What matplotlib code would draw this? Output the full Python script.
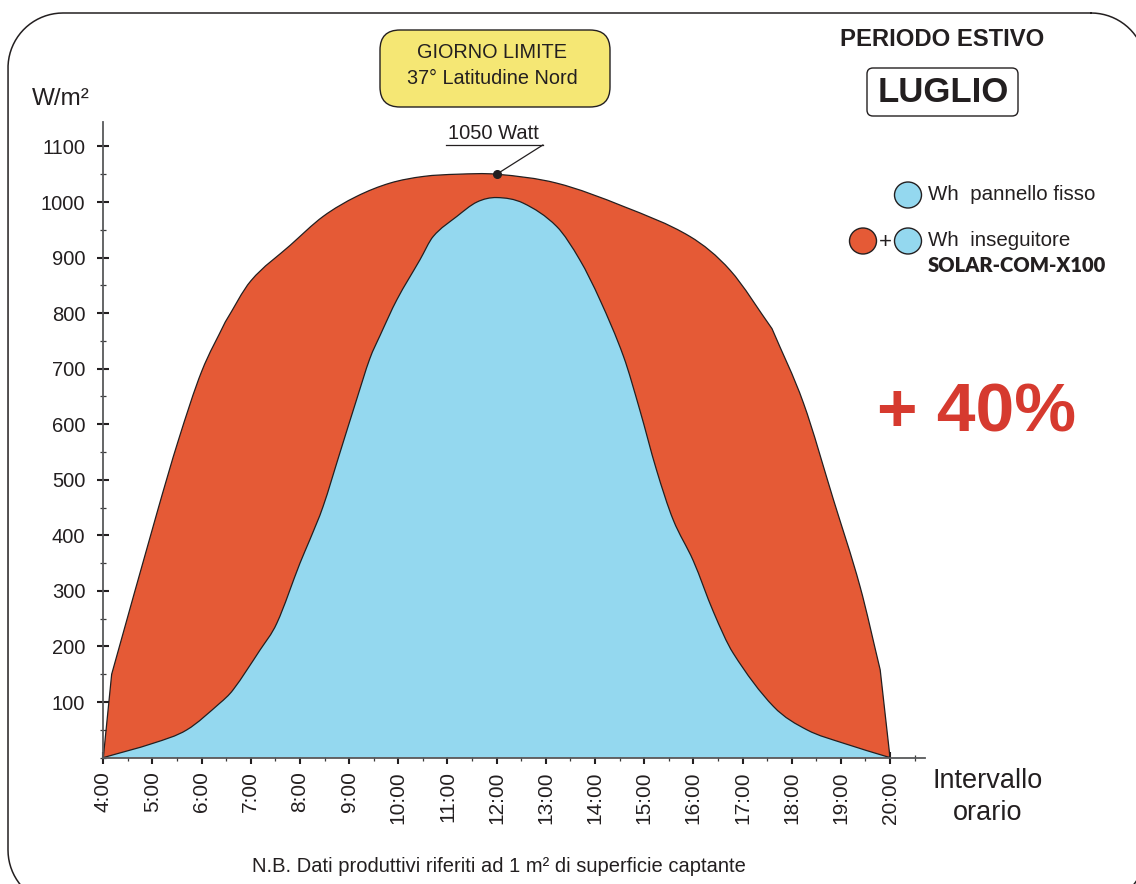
import numpy as np
import matplotlib
matplotlib.use("Agg")
import matplotlib.pyplot as plt
from matplotlib.patches import FancyBboxPatch, Ellipse, PathPatch
from matplotlib.path import Path
from matplotlib.lines import Line2D
from matplotlib.transforms import IdentityTransform
from matplotlib.ticker import MultipleLocator

# --- data -------------------------------------------------------------
# irradiance with the SOLAR-COM-X100 tracker (W/m2)
tracker_hours = [4.0, 4.17, 5.09, 5.53, 6.0, 6.48, 7.0, 7.80,
                 8.47, 9.15, 9.83, 10.51, 11.2, 12.0, 13.22, 14.58, 15.93,
                 16.75, 17.6, 18.24, 18.85, 19.39, 19.8, 20.0]
tracker_wm2 = [0, 150, 440, 572, 695, 784, 858, 922,
               974, 1010, 1034, 1046, 1050, 1050, 1034, 992, 938,
               877, 772, 638, 464, 308, 158, 0]
tracker_corners = (1, 5, 18, 22)

# irradiance on the fixed panel (W/m2)
fixed_hours = [4.0, 5.02, 5.70, 6.37, 6.64, 7.19, 7.53, 8.0, 8.2,
               8.47, 8.81, 9.15, 9.42, 9.63, 9.97, 10.44, 10.71, 11.19,
               11.6, 12.0, 12.54, 13.22, 13.69, 14.10, 14.58, 14.91, 15.25,
               15.59, 16.0, 16.41, 16.81, 17.63, 18.31, 19.05, 20.0]
fixed_wm2 = [0, 26, 50, 98, 122, 194, 242, 350, 392,
             452, 548, 644, 718, 760, 824, 896, 938, 974,
             1000, 1008, 998, 956, 896, 824, 722, 626, 518,
             428, 354, 262, 188, 92, 50, 26, 0]

peak_hour = 12.0
peak_value = 1050

hour_ticks = list(range(4, 21))
hour_labels = [f"{h}:00" for h in hour_ticks]
wm2_ticks = list(range(100, 1101, 100))

RED = "#e55a36"
BLUE = "#94d8ef"
INK = "#231f20"
FONT = ["Liberation Sans", "DejaVu Sans"]

W, H = 1136, 884
fig = plt.figure(figsize=(W / 100, H / 100), dpi=100)
fig.patch.set_facecolor("white")


def fp(x, y):
    """pixel position (from top-left) -> figure fraction"""
    return x / W, 1 - y / H


def smooth_path(xs, ys, corners=(), close=False):
    """Cubic Hermite path through the given points (sharp at `corners`)."""
    xs = np.asarray(xs, float)
    ys = np.asarray(ys, float)
    n = len(xs)
    sec = np.diff(ys) / np.diff(xs)

    def slope(i, side):
        if i == 0:
            return sec[0]
        if i == n - 1:
            return sec[-1]
        if i in corners:
            return sec[i - 1] if side == "in" else sec[i]
        return (ys[i + 1] - ys[i - 1]) / (xs[i + 1] - xs[i - 1])

    verts = [(xs[0], ys[0])]
    codes = [Path.MOVETO]
    for i in range(n - 1):
        h = xs[i + 1] - xs[i]
        m0 = slope(i, "out")
        m1 = slope(i + 1, "in")
        verts += [(xs[i] + h / 3, ys[i] + m0 * h / 3),
                  (xs[i + 1] - h / 3, ys[i + 1] - m1 * h / 3),
                  (xs[i + 1], ys[i + 1])]
        codes += [Path.CURVE4] * 3
    if close:
        verts += [(xs[-1], 0), (xs[0], 0), (xs[0], 0)]
        codes += [Path.LINETO, Path.LINETO, Path.CLOSEPOLY]
    return Path(verts, codes)


# axes placement
x0, x1 = 103.3, 925.0
ytop, ybot = 122.0, 757.6
ax = fig.add_axes([x0 / W, 1 - ybot / H, (x1 - x0) / W, (ybot - ytop) / H])
px_per_hour = 49.17
px_per_w = 0.5556
ax.set_xlim(4, 4 + (x1 - x0) / px_per_hour)
ax.set_ylim(0, (ybot - ytop) / px_per_w)
ax.set_facecolor("none")

# filled areas
ax.add_patch(PathPatch(smooth_path(tracker_hours, tracker_wm2, tracker_corners, close=True),
                       facecolor=RED, lw=0, zorder=1))
ax.add_patch(PathPatch(smooth_path(tracker_hours, tracker_wm2, tracker_corners),
                       facecolor="none", edgecolor=INK, lw=0.9, zorder=3))
ax.add_patch(PathPatch(smooth_path(fixed_hours, fixed_wm2, close=True),
                       facecolor=BLUE, lw=0, zorder=2))
ax.add_patch(PathPatch(smooth_path(fixed_hours, fixed_wm2),
                       facecolor="none", edgecolor=INK, lw=0.9, zorder=3))

# spines & ticks
for s in ("top", "right"):
    ax.spines[s].set_visible(False)
for s in ("left", "bottom"):
    ax.spines[s].set_color("#58595b")
    ax.spines[s].set_linewidth(1.3)
    ax.spines[s].set_zorder(4)

ax.set_xticks(hour_ticks)
ax.set_xticklabels(hour_labels, rotation=90, fontsize=15, family=FONT,
                   color=INK, va="top")
ax.xaxis.set_minor_locator(MultipleLocator(0.5))
ax.set_yticks(wm2_ticks)
ax.set_yticklabels([str(v) for v in wm2_ticks], fontsize=14.5, family=FONT,
                   color=INK)
ax.yaxis.set_minor_locator(MultipleLocator(50))
ax.tick_params(which="major", direction="inout", length=8, width=1.5,
               color=INK)
ax.tick_params(which="minor", direction="inout", length=5, width=0.9,
               color="#3a3a3a")
ax.tick_params(axis="y", which="major", pad=9)
ax.tick_params(axis="x", which="major", pad=6)

# peak annotation
ax.plot([peak_hour], [peak_value], "o", color=INK, ms=5.5, zorder=5)
ax.plot([12.94, peak_hour], [1102.6, peak_value], color=INK, lw=0.9, zorder=5)
ax.plot([10.97, 12.94], [1102.6, 1102.6], color=INK, lw=0.9, zorder=5,
        clip_on=False)
ax.text(11.93, 1106, f"{peak_value} Watt", ha="center", va="bottom",
        fontsize=14.5, family=FONT, color=INK)

# axis titles
fig.text(*fp(32, 99), "W/m²", fontsize=17.5, family=FONT, color=INK,
         ha="left", va="center")
fig.text(*fp(988, 797), "Intervallo\norario", fontsize=19.5, family=FONT,
         color=INK, ha="center", va="center", linespacing=1.35)
fig.text(*fp(499, 866), "N.B. Dati produttivi riferiti ad 1 m² di superficie captante",
         fontsize=14.5, family=FONT, color=INK, ha="center", va="center")

# yellow header box
ident = IdentityTransform()
fig.add_artist(FancyBboxPatch((380, H - 107), 230, 77,
                              boxstyle="round,pad=0,rounding_size=20",
                              transform=ident, facecolor="#f5e774",
                              edgecolor=INK, lw=1.0))
fig.text(*fp(492, 53), "GIORNO LIMITE", fontsize=14.3, family=FONT, color=INK,
         ha="center", va="center")
fig.text(*fp(492, 78), "37° Latitudine Nord", fontsize=14.3, family=FONT,
         color=INK, ha="center", va="center")

# period
fig.text(*fp(942, 39), "PERIODO ESTIVO", fontsize=17.2, family=FONT,
         weight="bold", color=INK, ha="center", va="center")
fig.add_artist(FancyBboxPatch((867, H - 116), 151, 48,
                              boxstyle="round,pad=0,rounding_size=6",
                              transform=ident, facecolor="white",
                              edgecolor=INK, lw=1.0))
fig.text(*fp(943, 93), "LUGLIO", fontsize=25, family=FONT, weight="bold",
         color=INK, ha="center", va="center")


# legend
def dot(x, y, color):
    fig.add_artist(Ellipse(fp(x, y), 27 / W, 26 / H, transform=fig.transFigure,
                           facecolor=color, edgecolor=INK, lw=1.0))


dot(908, 195, BLUE)
dot(863, 241, RED)
dot(908, 241, BLUE)
fig.text(*fp(885, 242), "+", fontsize=16, family=FONT, color=INK,
         ha="center", va="center")
fig.text(*fp(928, 194), "Wh  pannello fisso", fontsize=14.8, family=FONT,
         color=INK, ha="left", va="center")
fig.text(*fp(928, 241), "Wh  inseguitore", fontsize=14.8, family=FONT,
         color=INK, ha="left", va="center")
fig.text(*fp(928, 266), "SOLAR-COM-X100", fontsize=14.5,
         family=["Lato", "DejaVu Sans"], weight="heavy", color=INK,
         ha="left", va="center")

# gain
fig.text(*fp(977, 414), "+ 40%", fontsize=50, family=FONT, weight="bold",
         color="#d63a2f", ha="center", va="center")


# rounded frame (sampled outline so it clips cleanly at the canvas edge)
def rounded_frame(left, top, right, bottom, r, n=40):
    t = np.linspace(0, np.pi / 2, n)
    xs, ys = [], []
    # corners in pixel coords measured from the top-left
    for cx, cy, a0 in ((right - r, top + r, -np.pi / 2),
                       (right - r, bottom - r, 0.0),
                       (left + r, bottom - r, np.pi / 2),
                       (left + r, top + r, np.pi)):
        xs.extend(cx + r * np.cos(a0 + t))
        ys.extend(cy + r * np.sin(a0 + t))
    xs.append(xs[0])
    ys.append(ys[0])
    return np.array(xs), H - np.array(ys)


fx, fy = rounded_frame(8, 13, 1146, 905, 55)
fig.add_artist(Line2D(fx, fy, transform=ident, color=INK, lw=1.1))

fig.savefig("out.png", dpi=100, facecolor="white")
